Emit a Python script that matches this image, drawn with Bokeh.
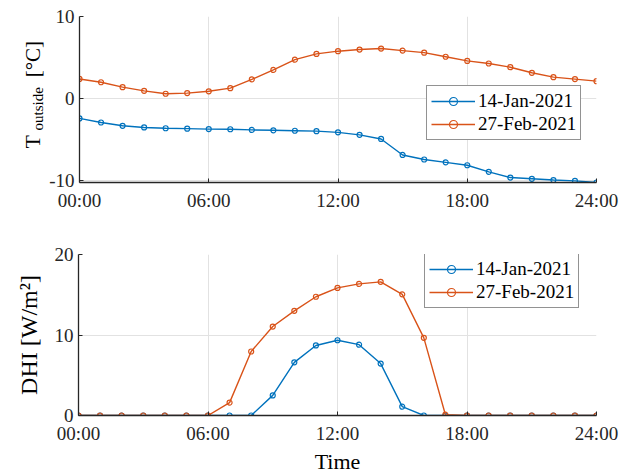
from math import pi

from bokeh.plotting import figure
from bokeh.models import Range1d, FixedTicker, Legend, LegendItem
from bokeh.core.properties import value
from bokeh.layouts import column, row
from bokeh.embed import file_html
from bokeh.resources import INLINE

# ---------------- data ----------------
hours = list(range(25))
x_ticks = [0, 6, 12, 18, 24]
x_tick_labels = ["00:00", "06:00", "12:00", "18:00", "24:00"]
dates = ["14-Jan-2021", "27-Feb-2021"]

temp_jan = [-2.4, -2.9, -3.3, -3.5, -3.6, -3.65, -3.7, -3.72, -3.8, -3.85, -3.9,
            -3.95, -4.1, -4.4, -4.9, -6.85, -7.4, -7.75, -8.1, -8.9, -9.6, -9.75,
            -9.9, -10.0, -10.2]
temp_feb = [2.4, 2.0, 1.4, 0.95, 0.6, 0.68, 0.9, 1.28, 2.35, 3.5, 4.75, 5.45,
            5.78, 5.98, 6.1, 5.85, 5.6, 5.1, 4.6, 4.28, 3.83, 3.15, 2.62, 2.38, 2.13]

dhi_jan = [0, 0, 0, 0, 0, 0, 0, 0, 0, 2.5, 6.6, 8.7, 9.35, 8.8, 6.45, 1.1,
           0, 0, 0, 0, 0, 0, 0, 0, 0]
dhi_feb = [0, 0, 0, 0, 0, 0, 0, 1.6, 7.95, 11.05, 13.0, 14.75, 15.85, 16.35,
           16.6, 15.05, 9.65, 0.1, 0, 0, 0, 0, 0, 0, 0]

temp_ticks = [-10, 0, 10]
temp_tick_labels = ["-10", "0", "10"]
dhi_ticks = [0, 10, 20]
dhi_tick_labels = ["0", "10", "20"]

temp_label_parts = ["T", "outside", "[°C]"]
dhi_label = "DHI [W/m²]"
time_label = "Time"

colors = ["#0072BD", "#D95319"]
FONT = "Liberation Serif"
AXC = "#262626"
LAB_W = 46


def make_panel(width, height, b_left, b_top, b_bottom, y_range, y_ticks, y_labels,
               series, legend_loc):
    p = figure(width=width, height=height, output_backend="svg", toolbar_location=None,
               x_range=Range1d(0, 24), y_range=y_range,
               min_border_left=b_left, min_border_right=37, min_border_top=b_top,
               min_border_bottom=b_bottom)
    p.outline_line_color = None
    p.background_fill_color = "white"
    p.border_fill_color = "white"

    p.xaxis.ticker = FixedTicker(ticks=x_ticks)
    p.xaxis.major_label_overrides = dict(zip(x_ticks, x_tick_labels))
    p.yaxis.ticker = FixedTicker(ticks=y_ticks)
    p.yaxis.major_label_overrides = dict(zip(y_ticks, y_labels))
    p.xgrid.ticker = FixedTicker(ticks=x_ticks)
    p.ygrid.ticker = FixedTicker(ticks=y_ticks)
    p.grid.grid_line_color = "#e2e2e2"
    p.grid.grid_line_width = 1

    for ax in (p.xaxis, p.yaxis):
        ax.axis_line_color = AXC
        ax.axis_line_width = 1.3
        ax.major_tick_line_color = AXC
        ax.major_tick_in = 4
        ax.major_tick_out = 0
        ax.minor_tick_line_color = None
        ax.major_label_text_font = FONT
        ax.major_label_text_font_size = "19px"
        ax.major_label_text_color = AXC
        ax.axis_label_text_font = FONT
        ax.axis_label_text_font_style = "normal"
        ax.axis_label_text_color = "#000000"
    p.xaxis.major_label_standoff = 7
    p.yaxis.major_label_standoff = 5

    items = []
    for name, vals, c in zip(dates, series, colors):
        ln = p.line(hours, vals, line_color=c, line_width=1.4)
        sc = p.scatter(hours, vals, marker="circle", size=5, line_color=c,
                       fill_color=None, line_width=1.2)
        items.append(LegendItem(label=name, renderers=[ln, sc]))

    legend = Legend(items=items, location=legend_loc)
    legend.border_line_color = AXC
    legend.border_line_width = 1
    legend.background_fill_color = "white"
    legend.background_fill_alpha = 1
    legend.label_text_font = FONT
    legend.label_text_font_size = "19px"
    legend.label_text_color = "#000000"
    legend.glyph_width = 44
    legend.glyph_height = 20
    legend.label_height = 20
    legend.label_standoff = 3
    legend.padding = 4
    legend.spacing = 1
    legend.margin = 0
    p.add_layout(legend)
    return p


# ---------------- top panel (temperature) ----------------
temp_range = Range1d(-10.2, 10)
top = make_panel(633 - LAB_W, 230, 78 - LAB_W, 16, 48, temp_range, temp_ticks,
                 temp_tick_labels, [temp_jan, temp_feb], (347, 42))

# narrow panel holding the composite y label T_outside [°C]
lab = figure(width=LAB_W, height=230, output_backend="svg", toolbar_location=None,
             x_range=Range1d(0, LAB_W), y_range=temp_range,
             x_axis_type=None, y_axis_type=None,
             min_border_left=0, min_border_right=0, min_border_top=16,
             min_border_bottom=48)
lab.outline_line_color = None
lab.grid.visible = False
lab.text(x=[31.5], y=[-6.06], text=[temp_label_parts[0]], angle=pi / 2,
         text_font=value(FONT), text_font_size="22px", text_color="#000000",
         text_align="left", text_baseline="middle")
lab.text(x=[37], y=[-3.87], text=[temp_label_parts[1]], angle=pi / 2,
         text_font=value(FONT), text_font_size="15px", text_color="#000000",
         text_align="left", text_baseline="middle")
lab.text(x=[32], y=[2.6], text=[temp_label_parts[2]], angle=pi / 2,
         text_font=value(FONT), text_font_size="21px", text_color="#000000",
         text_align="left", text_baseline="middle")

# ---------------- bottom panel (DHI) ----------------
bottom = make_panel(633, 246, 78, 24, 56, Range1d(0, 20), dhi_ticks, dhi_tick_labels,
                    [dhi_jan, dhi_feb], (346, 107))
bottom.yaxis.axis_label = dhi_label
bottom.yaxis.axis_label_text_font_size = "24px"
bottom.yaxis.axis_label_standoff = 10
bottom.xaxis.axis_label = time_label
bottom.xaxis.axis_label_text_font_size = "22px"
bottom.xaxis.axis_label_standoff = 2

layout = column(row(lab, top, spacing=0), bottom, spacing=0)
open("out.html", "w").write(file_html(layout, INLINE))
